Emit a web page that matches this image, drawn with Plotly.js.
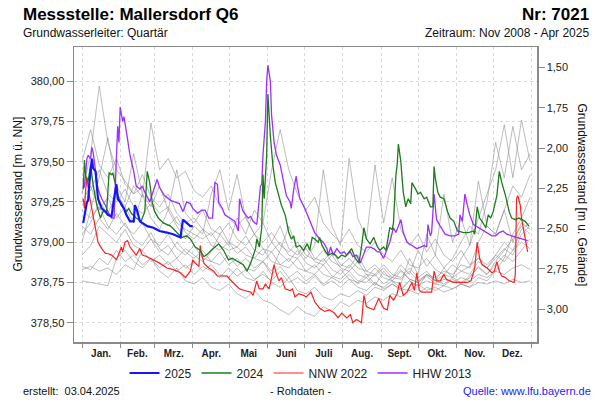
<!DOCTYPE html>
<html>
<head>
<meta charset="utf-8">
<script src="https://cdn.plot.ly/plotly-3.0.1.min.js"></script>
<style>html,body{margin:0;padding:0;background:#fff;}#chart{width:600px;height:400px;}</style>
</head>
<body>
<div id="chart"></div>
<script>
// ---- Data (day of year, 0 = 1 Jan) ----
const groundLevel = 381.585; // m ü. NN, for the right axis (m u. Gelände)

const monthStarts = [0,31,59,90,120,151,181,212,243,273,304,334,365];
const monthMids = [15.5,45,74.5,105,135.5,166,196.5,227.5,258,288.5,319,349.5];
const monthLabels = ["Jan.","Feb.","Mrz.","Apr.","Mai","Juni","Juli","Aug.","Sept.","Okt.","Nov.","Dez."];

const leftTicks = [378.5,378.75,379.0,379.25,379.5,379.75,380.0];
const rightTicks = [1.5,1.75,2.0,2.25,2.5,2.75,3.0];

// other years (grey), weekly readings
const grayDays = [0,7,14,21,28,35,42,49,56,63,70,77,84,91,98,105,112,119,126,133,140,147,154,161,168,175,182,189,196,203,210,217,224,231,238,245,252,259,266,273,280,287,294,301,308,315,322,329,336,343,350,357,364];
const gray1 = [379.30,379.55,379.97,379.62,379.45, 379.38,379.30,379.34,379.25, 379.18,379.22,379.12,379.08, 379.05,379.02,379.06,378.98,378.95, 378.97,378.92,378.90,378.96, 378.88,378.86,378.90,378.84, 378.82,378.86,378.80,378.78,378.83, 378.77,378.75,378.80,378.74, 378.72,378.76,378.71,378.70, 378.74,378.70,378.72,378.69,378.71, 378.74,378.72,378.78,378.76, 378.82,378.90,379.05,379.15,379.28];
const gray2 = [379.50,379.70,379.48,379.40,379.52, 379.36,379.30,379.42,379.28, 379.22,379.30,379.18,379.12, 379.15,379.08,379.04,379.10,379.00, 378.97,379.04,378.95,378.92, 379.00,378.93,378.88,378.95, 378.87,378.84,378.90,378.83,378.80, 378.86,378.80,378.78,378.84, 378.78,378.76,378.82,378.77, 378.75,378.80,378.76,378.74,378.78, 378.75,378.79,378.84,378.80, 378.86,378.92,378.88,378.95,379.02];
const gray3 = [379.05,379.12,379.25,379.18,379.30, 379.22,379.35,379.28,379.74, 379.45,379.52,379.40,379.44, 379.32,379.28,379.35,379.22,379.15, 379.10,379.16,379.05,379.00, 379.06,378.98,378.94,379.00, 378.92,378.89,378.95,378.88,378.85, 378.90,378.84,378.82,378.86, 378.80,378.78,378.83,378.77, 378.75,378.79,378.74,378.73,378.77, 378.74,378.78,378.85,378.80, 378.88,378.95,379.02,379.10,379.05];
const gray4 = [378.92,378.98,379.10,379.05,379.00, 379.08,378.98,378.95,379.02, 378.94,378.98,378.90,378.96, 378.92,378.88,378.94,379.05,378.98, 379.15,379.05,379.20,379.12, 379.45,379.70,379.45,379.30, 379.20,379.28,379.12,379.05,379.00, 379.08,378.98,378.94,379.00, 378.92,378.88,378.95,378.86, 378.84,378.90,378.83,378.80,378.86, 378.82,378.85,378.90,378.86, 378.92,379.00,378.95,379.08,379.12];
const gray5 = [379.20,379.15,379.22,379.10,379.05, 379.12,379.02,378.98,379.06, 378.96,378.92,379.00,378.94, 378.90,378.95,378.88,378.86,378.92, 378.85,378.90,378.84,378.88, 378.82,378.95,379.10,378.96, 378.90,378.98,379.45,379.10,378.98, 379.52,379.15,379.02,379.48, 379.12,379.40,379.08,378.98, 379.05,378.94,379.02,378.92,378.88, 378.95,378.86,378.90,378.84, 378.92,378.88,378.95,379.00,378.96];
const gray6 = [378.85,378.83,378.90,378.86,378.95, 378.88,378.92,378.86,378.90, 378.84,378.88,378.82,378.86, 378.80,378.85,378.82,378.78,378.84, 378.79,378.83,378.77,378.80, 378.76,378.82,378.75,378.78, 378.74,378.79,378.73,378.76,378.72, 378.77,378.72,378.70,378.75, 378.71,378.74,378.70,378.76, 378.72,378.80,378.76,378.84,378.78, 378.90,378.98,379.15,379.30, 379.45,379.73,379.40,379.76,379.50];
const gray7 = [379.40,379.32,379.45,379.30,379.25, 379.33,379.22,379.18,379.24, 379.14,379.10,379.16,379.06, 379.02,379.08,378.98,378.95,379.00, 378.93,378.97,378.90,378.88, 378.94,378.86,378.84,378.90, 378.82,378.80,378.86,378.79,378.77, 378.82,378.76,378.75,378.80, 378.74,378.78,378.86,378.80, 378.95,378.85,378.92,378.84,378.90, 379.00,379.10,379.05,379.25, 379.62,379.40,379.72,379.45,379.55];
const gray8 = [378.76,378.75,378.74,378.73,378.90, 378.95,378.88,378.84,378.90, 378.82,378.78,378.84,378.76, 378.74,378.78,378.72,378.70,378.74, 378.68,378.65,378.70,378.64, 378.62,378.58,378.55,378.60, 378.56,378.54,378.60,378.57,378.63, 378.60,378.64,378.62,378.66, 378.64,378.68,378.66,378.70, 378.68,378.72,378.70,378.73,378.71, 378.74,378.72,378.75,378.74, 378.76,378.74,378.77,378.75,378.76];
const gray9 = [378.83,378.85,378.82,378.84,378.80, 378.86,378.83,378.95,378.88, 378.92,378.86,378.90,378.84, 378.88,378.82,378.86,378.80,378.78, 378.84,378.78,378.76,378.82, 378.75,378.72,378.78,378.70, 378.68,378.72,378.66,378.64,378.68, 378.66,378.70,378.67,378.72, 378.70,378.74,378.71,378.76, 378.73,378.76,378.74,378.77,378.75, 378.78,378.76,378.80,378.78, 378.82,378.80,378.84,378.86,378.83];
const gray10 = [379.00,379.20,379.40,379.65,379.35, 379.25,379.55,379.30,379.22, 379.35,379.20,379.45,379.18, 379.12,379.20,379.08,379.05,379.12, 379.02,378.98,379.05,378.96, 378.94,379.00,378.92,378.90, 378.96,378.88,378.86,378.92,378.84, 378.82,378.88,378.80,378.79, 378.84,378.78,378.77,378.82, 378.76,378.80,378.78,378.82,378.80, 378.86,378.84,379.00,379.10, 379.05,379.20,379.35,379.28,379.42];
const gray11 = [379.10,379.05,379.15,379.08,379.18, 379.10,379.05,379.12,379.02, 378.98,379.05,378.96,378.92, 378.98,378.90,378.88,378.94,378.86, 378.90,378.84,378.82,378.88, 378.80,378.85,378.78,378.82, 378.76,378.80,378.74,378.78,378.75, 378.80,378.74,378.78,378.73, 378.82,378.76,378.74,378.90, 378.80,379.05,378.92,379.30,379.00, 379.15,378.98,379.38,379.10, 379.05,379.20,379.00,379.12,379.08];
const gray12 = [379.25,379.35,379.20,379.28,379.15, 379.22,379.12,379.30,379.15, 379.08,379.20,379.10,379.02, 379.10,379.05,379.30,379.45,379.20, 379.42,379.15,379.05,379.12, 379.00,379.10,378.96,378.92, 379.00,378.90,378.88,378.95,378.86, 378.84,378.92,378.82,378.80, 378.86,378.80,378.78,378.84, 378.78,378.82,378.76,378.80,378.78, 378.82,378.80,378.88,378.84, 378.90,378.96,378.92,379.05,379.10];

// HHW 2013
const hhwDays = [1,2,4,5,7,8,9,11,13,16,19,21,24,26,28,29,30,31,33,34,36,39,42,44,47,49,51,53,55,58,61,63,67,72,76,79,82,85,88,90,94,97,100,103,106,108,110,111,114,116,120,124,127,128,130,131,135,137,139,142,145,146,147,149,150,151,153,154,156,158,161,164,166,169,170,172,174,175,177,181,185,189,193,196,199,200,202,204,207,210,213,215,218,220,223,226,229,231,234,237,240,242,245,248,250,253,255,257,259,261,264,268,272,275,278,280,281,283,284,286,287,288,291,295,299,303,306,307,309,311,313,315,318,322,325,329,333,336,339,342,345,349,353,357,362];
const hhwVals = [379.37,379.34,379.52,379.54,379.52,379.59,379.56,379.44,379.33,379.27,379.23,379.19,379.15,379.15,379.48,379.72,379.62,379.84,379.75,379.78,379.69,379.54,379.44,379.35,379.33,379.35,379.31,379.28,379.25,379.32,379.39,379.34,379.29,379.26,379.25,379.24,379.19,379.25,379.24,379.21,379.18,379.20,379.20,379.15,379.15,379.37,379.36,379.25,379.21,379.17,379.15,379.13,379.07,379.27,379.21,379.19,379.15,379.16,379.13,379.11,379.35,379.36,379.54,379.75,380.00,380.10,380.00,379.79,379.62,379.54,379.48,379.37,379.29,379.25,379.21,379.33,379.41,379.35,379.27,379.21,379.13,379.06,379.02,379.00,378.96,378.92,378.97,378.92,378.96,378.93,378.94,378.92,378.94,378.91,378.92,378.87,378.93,378.97,378.97,378.96,378.94,378.94,378.90,378.96,379.00,379.09,379.06,379.10,379.14,379.06,379.00,378.98,378.96,378.97,378.98,378.97,379.11,379.04,379.06,379.30,379.21,379.14,379.10,379.05,379.04,379.04,379.05,379.17,379.13,379.30,379.23,379.17,379.11,379.09,379.08,379.06,379.04,379.04,379.06,379.07,379.05,379.04,379.03,379.02,379.01];

// NNW 2022
const nnwDays = [1,2,3,4,6,8,11,13,16,19,21,24,27,28,31,32,33,35,37,39,42,44,47,49,53,58,63,69,74,80,84,88,90,92,95,96,97,99,103,107,110,114,118,120,124,128,132,137,139,142,144,147,149,152,154,156,158,160,162,165,169,171,173,176,180,182,186,189,193,197,201,205,208,211,215,218,220,223,225,227,229,231,234,237,241,243,245,248,250,253,256,258,261,264,268,270,272,274,276,280,284,286,288,291,294,296,299,302,306,310,313,316,319,321,323,325,329,333,335,337,339,341,344,347,351,352,353,354,356,357,359,362];
const nnwVals = [379.27,379.21,379.33,379.40,379.29,379.21,379.09,379.00,378.96,378.93,378.93,378.92,378.90,378.89,378.95,378.97,378.94,379.00,379.01,378.97,378.94,378.92,378.96,378.92,378.91,378.89,378.87,378.84,378.83,378.81,378.78,378.82,378.89,378.87,378.85,378.98,378.93,378.87,378.84,378.82,378.79,378.79,378.79,378.77,378.74,378.71,378.70,378.69,378.67,378.76,378.71,378.71,378.74,378.71,378.78,378.86,378.80,378.76,378.78,378.71,378.70,378.71,378.66,378.68,378.67,378.66,378.69,378.63,378.59,378.57,378.58,378.56,378.53,378.56,378.53,378.55,378.50,378.52,378.51,378.50,378.67,378.60,378.59,378.58,378.65,378.62,378.59,378.58,378.67,378.64,378.68,378.75,378.67,378.69,378.75,378.70,378.81,378.70,378.69,378.69,378.69,378.82,378.76,378.76,378.80,378.77,378.76,378.75,378.75,378.75,378.75,378.76,378.84,379.00,378.90,378.86,378.84,378.81,378.82,378.88,378.82,378.79,378.78,378.76,378.75,378.80,379.27,379.29,379.23,379.15,379.07,378.94];

// 2024
const y2024Days = [1,2,3,5,7,9,12,15,17,20,22,24,25,27,30,32,36,38,40,44,48,51,53,55,57,59,62,66,72,77,81,85,88,92,96,99,101,105,111,115,119,122,127,131,134,137,141,142,144,146,147,148,150,151,153,155,157,160,162,165,168,170,172,174,177,180,183,185,187,189,192,193,195,198,200,203,206,208,211,214,217,219,222,225,227,229,231,234,237,240,242,245,247,250,252,253,255,256,257,259,260,261,263,265,267,268,271,273,275,278,280,283,285,286,287,289,291,294,297,299,302,305,310,314,318,319,321,323,325,328,330,332,334,337,339,341,344,347,349,352,355,358,360,363];
const y2024Vals = [379.33,379.51,379.41,379.38,379.48,379.36,379.23,379.15,379.19,379.19,379.43,379.42,379.43,379.37,379.27,379.23,379.19,379.21,379.18,379.15,379.13,379.19,379.44,379.37,379.25,379.19,379.15,379.12,379.10,379.06,379.03,379.04,379.02,378.97,378.95,378.91,378.92,378.95,378.99,378.95,378.89,378.90,378.88,378.86,378.82,378.87,378.96,379.02,378.97,379.09,379.42,379.27,379.54,379.92,379.66,379.48,379.37,379.29,379.23,379.17,379.06,379.02,379.04,378.97,378.98,378.95,378.99,378.95,379.03,379.02,379.00,379.03,378.98,378.94,378.92,378.93,378.92,378.90,378.92,378.91,378.94,378.96,378.90,378.87,378.97,379.09,379.02,378.99,379.03,378.97,378.95,378.97,378.95,379.09,379.08,379.12,379.42,379.48,379.61,379.50,379.40,379.31,379.22,379.27,379.24,379.37,379.33,379.30,379.31,379.27,379.28,379.22,379.22,379.47,379.40,379.31,379.28,379.27,379.19,379.15,379.13,379.07,379.06,379.06,379.07,379.05,379.22,379.15,379.13,379.09,379.17,379.15,379.19,379.29,379.44,379.37,379.29,379.19,379.15,379.14,379.15,379.14,379.13,379.10];

// 2025
const y2025Days = [1,2,4,5,6,8,9,11,13,16,19,21,24,26,28,29,31,34,36,39,42,43,45,47,53,58,63,69,74,80,82,85,88,90];
const y2025Vals = [379.12,379.16,379.25,379.26,379.37,379.52,379.46,379.44,379.27,379.21,379.19,379.17,379.16,379.27,379.36,379.27,379.25,379.21,379.17,379.13,379.13,379.23,379.19,379.13,379.10,379.09,379.07,379.06,379.05,379.03,379.14,379.12,379.10,379.10];

// ---- Traces ----
const FONT = 'Liberation Sans, Arial, sans-serif';
const grayColor = 'rgba(135,135,135,0.55)';
const traces = [];
[gray1,gray2,gray3,gray4,gray5,gray6,gray7,gray8,gray9,gray10,gray11,gray12].forEach(function(g){
  traces.push({x: grayDays, y: g, type:'scatter', mode:'lines', line:{color:grayColor, width:1}, showlegend:false, hoverinfo:'skip'});
});
// the 2025 series expressed as depth below ground, invisible, so the right (depth) axis is drawn
traces.push({x: y2025Days, y: y2025Vals.map(function(v){return groundLevel - v;}), yaxis:'y2', type:'scatter', mode:'lines',
  line:{color:'rgba(0,0,0,0)', width:0}, showlegend:false, hoverinfo:'skip'});
traces.push({x: hhwDays, y: hhwVals, type:'scatter', mode:'lines', name:'HHW 2013', legendrank:4, line:{color:'#9b30ff', width:1.3}});
traces.push({x: nnwDays, y: nnwVals, type:'scatter', mode:'lines', name:'NNW 2022', legendrank:3, line:{color:'#ff2020', width:1.2}});
traces.push({x: y2024Days, y: y2024Vals, type:'scatter', mode:'lines', name:'2024', legendrank:2, line:{color:'#1c7c1c', width:1.3}});
traces.push({x: y2025Days, y: y2025Vals, type:'scatter', mode:'lines', name:'2025', legendrank:1, line:{color:'#1414ff', width:2.2}});

const yRange = [378.380, 380.213];
const axisLine = '#8a8a8a';
const gridCol = '#d9d9d9';

function px2paperX(px){ return (px - 74) / (600 - 74 - 63); }
function px2paperY(py){ return (400 - 58 - py) / (400 - 47 - 58); }

const layout = {
  width: 600, height: 400,
  margin: {l:74, r:63, t:47, b:58, pad:0},
  paper_bgcolor:'#fff', plot_bgcolor:'#fff',
  separators: ',.',
  font: {family: FONT, size: 11, color:'#222'},
  showlegend: true,
  legend: {orientation:'h', x: px2paperX(301), xanchor:'center', y: px2paperY(373), yanchor:'middle',
           font:{family:FONT, size:12, color:'#222'}, bgcolor:'rgba(0,0,0,0)', itemwidth:30, traceorder:'normal'},
  xaxis: {
    range: [-6.5, 369.6], tickmode:'array', tickvals: monthMids, ticktext: monthLabels,
    ticks:'', showgrid:false, zeroline:false,
    showline:true, linecolor:axisLine, linewidth:1.5, mirror:true,
    tickfont:{family:FONT, size:10, color:'#222', weight:'bold'},
    ticklabelstandoff: 1,
    minor: {tickmode:'array', tickvals: monthStarts, ticks:'outside', ticklen:4, tickcolor:axisLine, tickwidth:1,
            showgrid:true, gridcolor:gridCol, gridwidth:1, griddash:'3px,3px'}
  },
  yaxis: {
    range: yRange, tickmode:'array', tickvals: leftTicks, tickformat:'.2f',
    ticks:'outside', ticklen:6, tickcolor:axisLine, tickwidth:1,
    showgrid:true, gridcolor:gridCol, gridwidth:1, griddash:'3px,3px', zeroline:false,
    showline:true, linecolor:axisLine, linewidth:1.5,
    tickfont:{family:FONT, size:11, color:'#222'}
  },
  yaxis2: {
    overlaying:'y', side:'right', anchor:'x',
    range: [groundLevel - yRange[0], groundLevel - yRange[1]],
    tickmode:'array', tickvals: rightTicks, tickformat:'.2f',
    ticks:'outside', ticklen:6, tickcolor:axisLine, tickwidth:1,
    showgrid:false, zeroline:false, showline:true, linecolor:axisLine, linewidth:1.5,
    tickfont:{family:FONT, size:11, color:'#222'}
  },
  annotations: [
    {text:'<b>Messstelle: Mallersdorf Q6</b>', xref:'paper', yref:'paper', x:px2paperX(21), y:px2paperY(15), xanchor:'left', yanchor:'middle', showarrow:false, font:{family:FONT, size:17, color:'#000'}},
    {text:'<b>Nr: 7021</b>', xref:'paper', yref:'paper', x:px2paperX(591), y:px2paperY(15), xanchor:'right', yanchor:'middle', showarrow:false, font:{family:FONT, size:17, color:'#000'}},
    {text:'Grundwasserleiter: Quartär', xref:'paper', yref:'paper', x:px2paperX(21), y:px2paperY(33), xanchor:'left', yanchor:'middle', showarrow:false, font:{family:FONT, size:12, color:'#111'}},
    {text:'Zeitraum: Nov 2008 - Apr 2025', xref:'paper', yref:'paper', x:px2paperX(591), y:px2paperY(33), xanchor:'right', yanchor:'middle', showarrow:false, font:{family:FONT, size:12, color:'#111'}},
    {text:'Grundwasserstand [m ü. NN]', xref:'paper', yref:'paper', x:px2paperX(17), y:0.5, xanchor:'center', yanchor:'middle', textangle:-90, showarrow:false, font:{family:FONT, size:12, color:'#111'}},
    {text:'Grundwasserstand [m u. Gelände]', xref:'paper', yref:'paper', x:px2paperX(582), y:0.5, xanchor:'center', yanchor:'middle', textangle:90, showarrow:false, font:{family:FONT, size:12, color:'#111'}},
    {text:'erstellt:\u00a0\u00a003.04.2025', xref:'paper', yref:'paper', x:px2paperX(21), y:px2paperY(391), xanchor:'left', yanchor:'middle', showarrow:false, font:{family:FONT, size:11, color:'#111'}},
    {text:'- Rohdaten -', xref:'paper', yref:'paper', x:px2paperX(300), y:px2paperY(391), xanchor:'center', yanchor:'middle', showarrow:false, font:{family:FONT, size:11, color:'#111'}},
    {text:'Quelle: www.lfu.bayern.de', xref:'paper', yref:'paper', x:px2paperX(593), y:px2paperY(391), xanchor:'right', yanchor:'middle', showarrow:false, font:{family:FONT, size:11, color:'#1a1aff'}}
  ]
};

Plotly.newPlot('chart', traces, layout, {staticPlot:true, displayModeBar:false});
</script>
</body>
</html>
